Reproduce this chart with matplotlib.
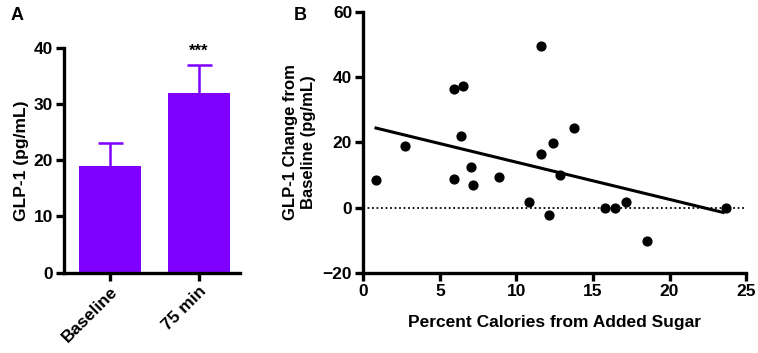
import matplotlib.pyplot as plt
import numpy as np

plt.rcParams.update({
    "font.family": ["Liberation Sans", "DejaVu Sans"],
    "font.weight": "bold",
    "axes.labelweight": "bold"})

# panel A
groups = ["Baseline", "75 min"]
glp1_mean = [19.0, 32.0]
glp1_err = [4.0, 5.0]

# panel B
sugar_pct = [0.83, 2.72, 5.92, 6.49, 6.38, 5.92, 7.01, 7.19, 8.89, 10.85, 11.61,
             11.61, 12.41, 12.15, 12.85, 13.78, 15.81, 16.46, 17.14, 18.53, 23.69]
glp1_change = [8.3, 18.9, 36.3, 37.2, 21.8, 8.7, 12.5, 6.9, 9.4, 1.6, 49.6,
               16.5, 19.9, -2.3, 9.9, 24.5, 0.0, 0.0, 1.8, -10.2, 0.0]

purple = "#7F00FF"
lw = 2.4
fs = 12.5

fig = plt.figure(figsize=(7.58, 3.53), dpi=100)

# ---- A ----
axA = fig.add_axes([0.0845, 0.2275, 0.232, 0.637])
xpos = np.arange(len(groups))
eb = axA.errorbar(xpos, glp1_mean, yerr=[[0, 0], glp1_err], fmt="none",
                  ecolor=purple, elinewidth=1.8, capsize=9, capthick=1.8, zorder=1)
eb[1][0].set_visible(False)  # no lower cap, only the top whisker
axA.bar(xpos, glp1_mean, width=0.70, color=purple, linewidth=0, zorder=2)
axA.text(1, 37 + 1.0, "***", ha="center", va="bottom", fontsize=12)
axA.set_xlim(-0.517, 1.46)
axA.set_ylim(0, 40)
axA.set_yticks([0, 10, 20, 30, 40])
axA.set_xticks(xpos)
axA.set_xticklabels(groups, rotation=45, ha="right", rotation_mode="anchor")
axA.set_ylabel("GLP-1 (pg/mL)", fontsize=fs, labelpad=3)
axA.text(-0.267, 1.145, "A", transform=axA.transAxes, fontsize=13, fontweight="bold",
         ha="center", va="center")

# ---- B ----
axB = fig.add_axes([0.4793, 0.2275, 0.505, 0.7385])
axB.axhline(0, color="black", linestyle=(0, (1, 1.5)), linewidth=1.3, zorder=1)
slope, intercept = np.polyfit(sugar_pct, glp1_change, 1)
xfit = np.array([min(sugar_pct), 23.5])
axB.plot(xfit, slope * xfit + intercept, color="black", linewidth=2.2, zorder=2)
axB.scatter(sugar_pct, glp1_change, s=40, color="black", zorder=3)
axB.set_xlim(0, 25)
axB.set_ylim(-20, 60)
axB.set_xticks([0, 5, 10, 15, 20, 25])
axB.set_yticks([-20, 0, 20, 40, 60])
axB.set_xlabel("Percent Calories from Added Sugar", fontsize=fs, labelpad=12)
axB.set_ylabel("GLP-1 Change from\nBaseline (pg/mL)", fontsize=12, labelpad=5)
axB.text(-0.165, 0.988, "B", transform=axB.transAxes, fontsize=13, fontweight="bold",
         ha="center", va="center")

for ax in (axA, axB):
    ax.spines["top"].set_visible(False)
    ax.spines["right"].set_visible(False)
    ax.spines["left"].set_linewidth(lw)
    ax.spines["bottom"].set_linewidth(lw)
    ax.tick_params(width=lw, length=6, labelsize=fs, pad=2)

fig.savefig("out.png", dpi=100)
